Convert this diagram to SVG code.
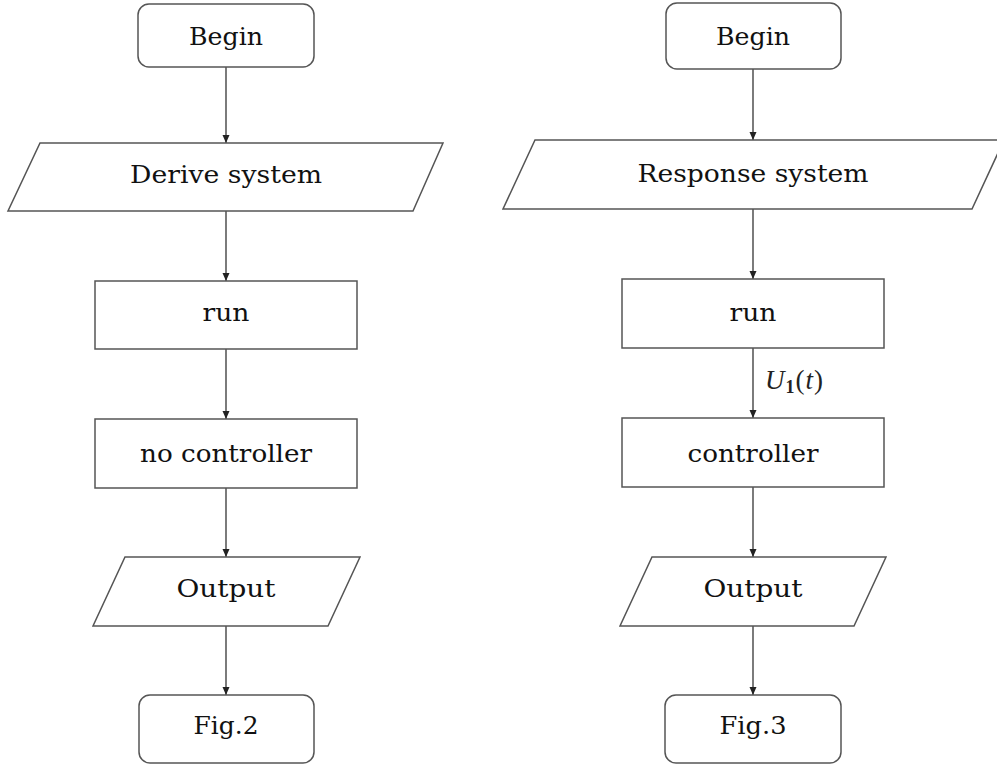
<svg xmlns="http://www.w3.org/2000/svg" width="997" height="770" viewBox="0 0 997 770">
  <defs>
    <marker id="arrow" markerUnits="userSpaceOnUse" markerWidth="9" markerHeight="9" viewBox="0 0 9 9" refX="8" refY="4.5" orient="auto">
      <path d="M0,1 L8,4.5 L0,8 Z" fill="#222"/>
    </marker>
    <style>
      .shape { fill: #fff; stroke: #555; stroke-width: 1.5; }
      .label { font-family: "DejaVu Serif", "Liberation Serif", serif; font-size: 24px; fill: #111; text-anchor: middle; }
      .edge { stroke: #444; stroke-width: 1.4; fill: none; marker-end: url(#arrow); }
      .math { font-family: "Liberation Serif", "DejaVu Serif", serif; font-size: 27px; fill: #222; }
    </style>
  </defs>

  <!-- connectors -->
  <g id="connectors">
    <line class="edge" x1="226" y1="67" x2="226" y2="143"/>
    <line class="edge" x1="226" y1="211" x2="226" y2="281"/>
    <line class="edge" x1="226" y1="349" x2="226" y2="419"/>
    <line class="edge" x1="226" y1="488" x2="226" y2="557"/>
    <line class="edge" x1="226" y1="626" x2="226" y2="695"/>

    <line class="edge" x1="753" y1="69" x2="753" y2="140"/>
    <line class="edge" x1="753" y1="209" x2="753" y2="279"/>
    <line class="edge" x1="753" y1="348" x2="753" y2="418"/>
    <line class="edge" x1="753" y1="487" x2="753" y2="557"/>
    <line class="edge" x1="753" y1="626" x2="753" y2="695"/>
    <text class="math" x="765" y="389"><tspan font-style="italic">U</tspan><tspan font-size="18" font-weight="bold" dx="1" dy="4">1</tspan><tspan dx="1" dy="-4">(</tspan><tspan font-style="italic" dx="1">t</tspan><tspan dx="1">)</tspan></text>
  </g>

  <!-- left flow -->
  <g id="begin-left">
    <rect class="shape" x="138" y="4" width="176" height="63" rx="11"/>
    <text class="label" x="226" y="45" textLength="74" lengthAdjust="spacingAndGlyphs">Begin</text>
  </g>
  <g id="derive-system">
    <polygon class="shape" points="40,143 443,143 413,211 8,211"/>
    <text class="label" x="226" y="183" textLength="192" lengthAdjust="spacingAndGlyphs">Derive system</text>
  </g>
  <g id="run-left">
    <rect class="shape" x="95" y="281" width="262" height="68"/>
    <text class="label" x="226" y="321" textLength="47" lengthAdjust="spacingAndGlyphs">run</text>
  </g>
  <g id="no-controller">
    <rect class="shape" x="95" y="419" width="262" height="69"/>
    <text class="label" x="226" y="462" textLength="172" lengthAdjust="spacingAndGlyphs">no controller</text>
  </g>
  <g id="output-left">
    <polygon class="shape" points="125,557 360,557 328,626 93,626"/>
    <text class="label" x="226" y="597" textLength="99" lengthAdjust="spacingAndGlyphs">Output</text>
  </g>
  <g id="fig2">
    <rect class="shape" x="139" y="695" width="175" height="68" rx="11"/>
    <text class="label" x="226" y="734" textLength="65" lengthAdjust="spacingAndGlyphs">Fig.2</text>
  </g>

  <!-- right flow -->
  <g id="begin-right">
    <rect class="shape" x="666" y="3" width="175" height="66" rx="11"/>
    <text class="label" x="753" y="45" textLength="74" lengthAdjust="spacingAndGlyphs">Begin</text>
  </g>
  <g id="response-system">
    <polygon class="shape" points="535,140 1004,140 972,209 503,209"/>
    <text class="label" x="753" y="182" textLength="231" lengthAdjust="spacingAndGlyphs">Response system</text>
  </g>
  <g id="run-right">
    <rect class="shape" x="622" y="279" width="262" height="69"/>
    <text class="label" x="753" y="321" textLength="47" lengthAdjust="spacingAndGlyphs">run</text>
  </g>
  <g id="controller">
    <rect class="shape" x="622" y="418" width="262" height="69"/>
    <text class="label" x="753" y="462" textLength="131" lengthAdjust="spacingAndGlyphs">controller</text>
  </g>
  <g id="output-right">
    <polygon class="shape" points="652,557 886,557 854,626 620,626"/>
    <text class="label" x="753" y="597" textLength="99" lengthAdjust="spacingAndGlyphs">Output</text>
  </g>
  <g id="fig3">
    <rect class="shape" x="665" y="695" width="176" height="68" rx="11"/>
    <text class="label" x="753" y="734" textLength="67" lengthAdjust="spacingAndGlyphs">Fig.3</text>
  </g>
</svg>
